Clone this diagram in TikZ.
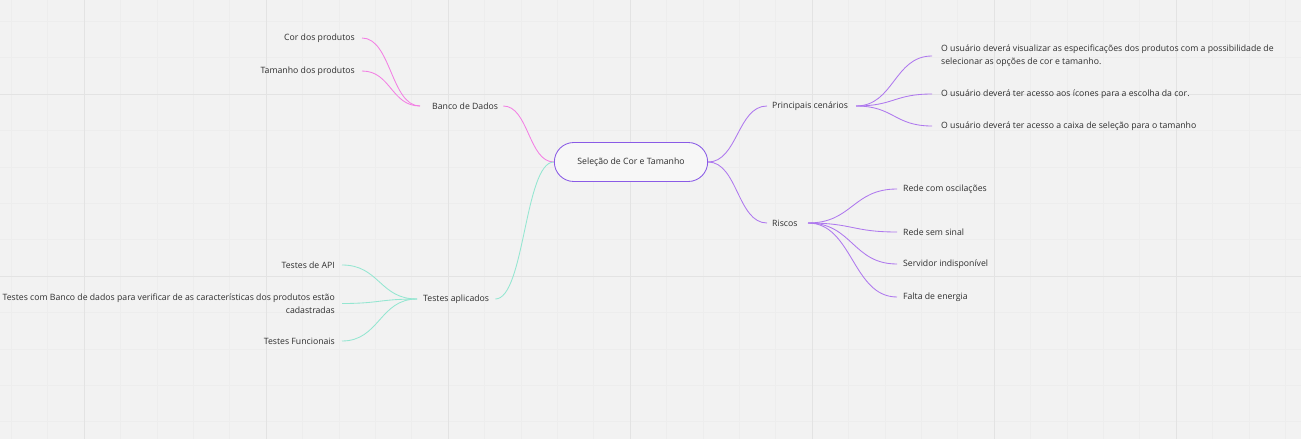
\documentclass[tikz,border=0pt]{standalone}
\usepackage{fontspec}
\setmainfont{Open Sans}
\usetikzlibrary{calc,shapes.misc}
\definecolor{bgc}{HTML}{F2F2F2}
\definecolor{minorg}{HTML}{EDEDED}
\definecolor{majorg}{HTML}{E3E3E3}
\definecolor{txt}{HTML}{2E2E2E}
\definecolor{pinkl}{HTML}{F27FE4}
\definecolor{tealk}{HTML}{94E6D1}
\definecolor{purpl}{HTML}{AE78EE}
\definecolor{cborder}{HTML}{8A5BE6}
\newcommand\mmlink[3]{\draw[#1] let \p1=(#2), \p2=(#3) in (\p1) .. controls ({(\x1+\x2)/2},\y1) and ({(\x1+\x2)/2},\y2) .. (\p2);}
\begin{document}
\begin{tikzpicture}[x=1pt,y=-1pt,
  lbl/.style={inner sep=0pt,text=txt,font=\fontsize{8.7}{12.8}\selectfont},
  lk/.style={line width=0.85pt},
  pk/.style={lk,draw=pinkl},
  tl/.style={lk,draw=tealk},
  pu/.style={lk,draw=purpl},
  central/.style={rounded rectangle,draw=cborder,line width=0.85pt,fill=bgc!60!white,minimum width=160pt,minimum height=39pt,text=txt,font=\fontsize{8.7}{12.8}\selectfont}]
\useasboundingbox (0,0) rectangle (1301,439);
\fill[bgc] (0,0) rectangle (1301,439);
\foreach \i in {0,...,35} {\draw[minorg,line width=0.6pt] ({11.2+36.4*\i},0) -- ({11.2+36.4*\i},439);}
\foreach \i in {0,...,12} {\draw[minorg,line width=0.6pt] (0,{21.2+36.4*\i}) -- (1301,{21.2+36.4*\i});}
\foreach \i in {0,...,7} {\draw[majorg,line width=0.8pt] ({84+182*\i},0) -- ({84+182*\i},439);}
\foreach \i in {0,1,2} {\draw[majorg,line width=0.8pt] (0,{94+182*\i}) -- (1301,{94+182*\i});}

\node[central] (c) at (631,162) {Seleção de Cor e Tamanho};

\node[lbl,anchor=west] (banco) at (432,106) {Banco de Dados};
\node[lbl,anchor=east] (cor) at (355,38) {Cor dos produtos};
\node[lbl,anchor=east] (tam) at (355,71) {Tamanho dos produtos};

\node[lbl,anchor=west] (testes) at (423,299) {Testes aplicados};
\node[lbl,anchor=east] (api) at (335,265) {Testes de API};
\node[lbl,anchor=east,align=right] (tbd) at (335,303.5) {Testes com Banco de dados para verificar de as características dos produtos estão\\cadastradas};
\node[lbl,anchor=east] (tfunc) at (335,341) {Testes Funcionais};

\node[lbl,anchor=west] (princ) at (772,106) {Principais cenários};
\node[lbl,anchor=west,align=left] (p1) at (941,56) {O usuário deverá visualizar as especificações dos produtos com a possibilidade de\\selecionar as opções de cor e tamanho.};
\node[lbl,anchor=west] (p2) at (941,94) {O usuário deverá ter acesso aos ícones para a escolha da cor.};
\node[lbl,anchor=west] (p3) at (941,126) {O usuário deverá ter acesso a caixa de seleção para o tamanho};

\node[lbl,anchor=west] (riscos) at (772,223) {Riscos};
\node[lbl,anchor=west] (r1) at (903,189) {Rede com oscilações};
\node[lbl,anchor=west] (r2) at (903,232) {Rede sem sinal};
\node[lbl,anchor=west] (r3) at (903,264) {Servidor indisponível};
\node[lbl,anchor=west] (r4) at (903,297) {Falta de energia};

\coordinate (bhub) at (420,106);
\coordinate (thub) at (417,299);
\coordinate (phub) at (856,106);
\coordinate (rhub) at (808,223);

\mmlink{pk}{[xshift=5pt]banco.east}{c.west}
\mmlink{pk}{[xshift=7pt]cor.east}{bhub}
\mmlink{pk}{[xshift=7pt]tam.east}{bhub}

\mmlink{tl}{[xshift=6pt]testes.east}{c.west}
\mmlink{tl}{[xshift=7pt]api.east}{thub}
\mmlink{tl}{[xshift=7pt]tbd.east}{thub}
\mmlink{tl}{[xshift=7pt]tfunc.east}{thub}

\mmlink{pu}{c.east}{[xshift=-5pt]princ.west}
\mmlink{pu}{c.east}{[xshift=-5pt]riscos.west}
\mmlink{pu}{phub}{[xshift=-9pt]p1.west}
\mmlink{pu}{phub}{[xshift=-9pt]p2.west}
\mmlink{pu}{phub}{[xshift=-9pt]p3.west}
\mmlink{pu}{rhub}{[xshift=-6pt]r1.west}
\mmlink{pu}{rhub}{[xshift=-6pt]r2.west}
\mmlink{pu}{rhub}{[xshift=-6pt]r3.west}
\mmlink{pu}{rhub}{[xshift=-6pt]r4.west}
\end{tikzpicture}
\end{document}
